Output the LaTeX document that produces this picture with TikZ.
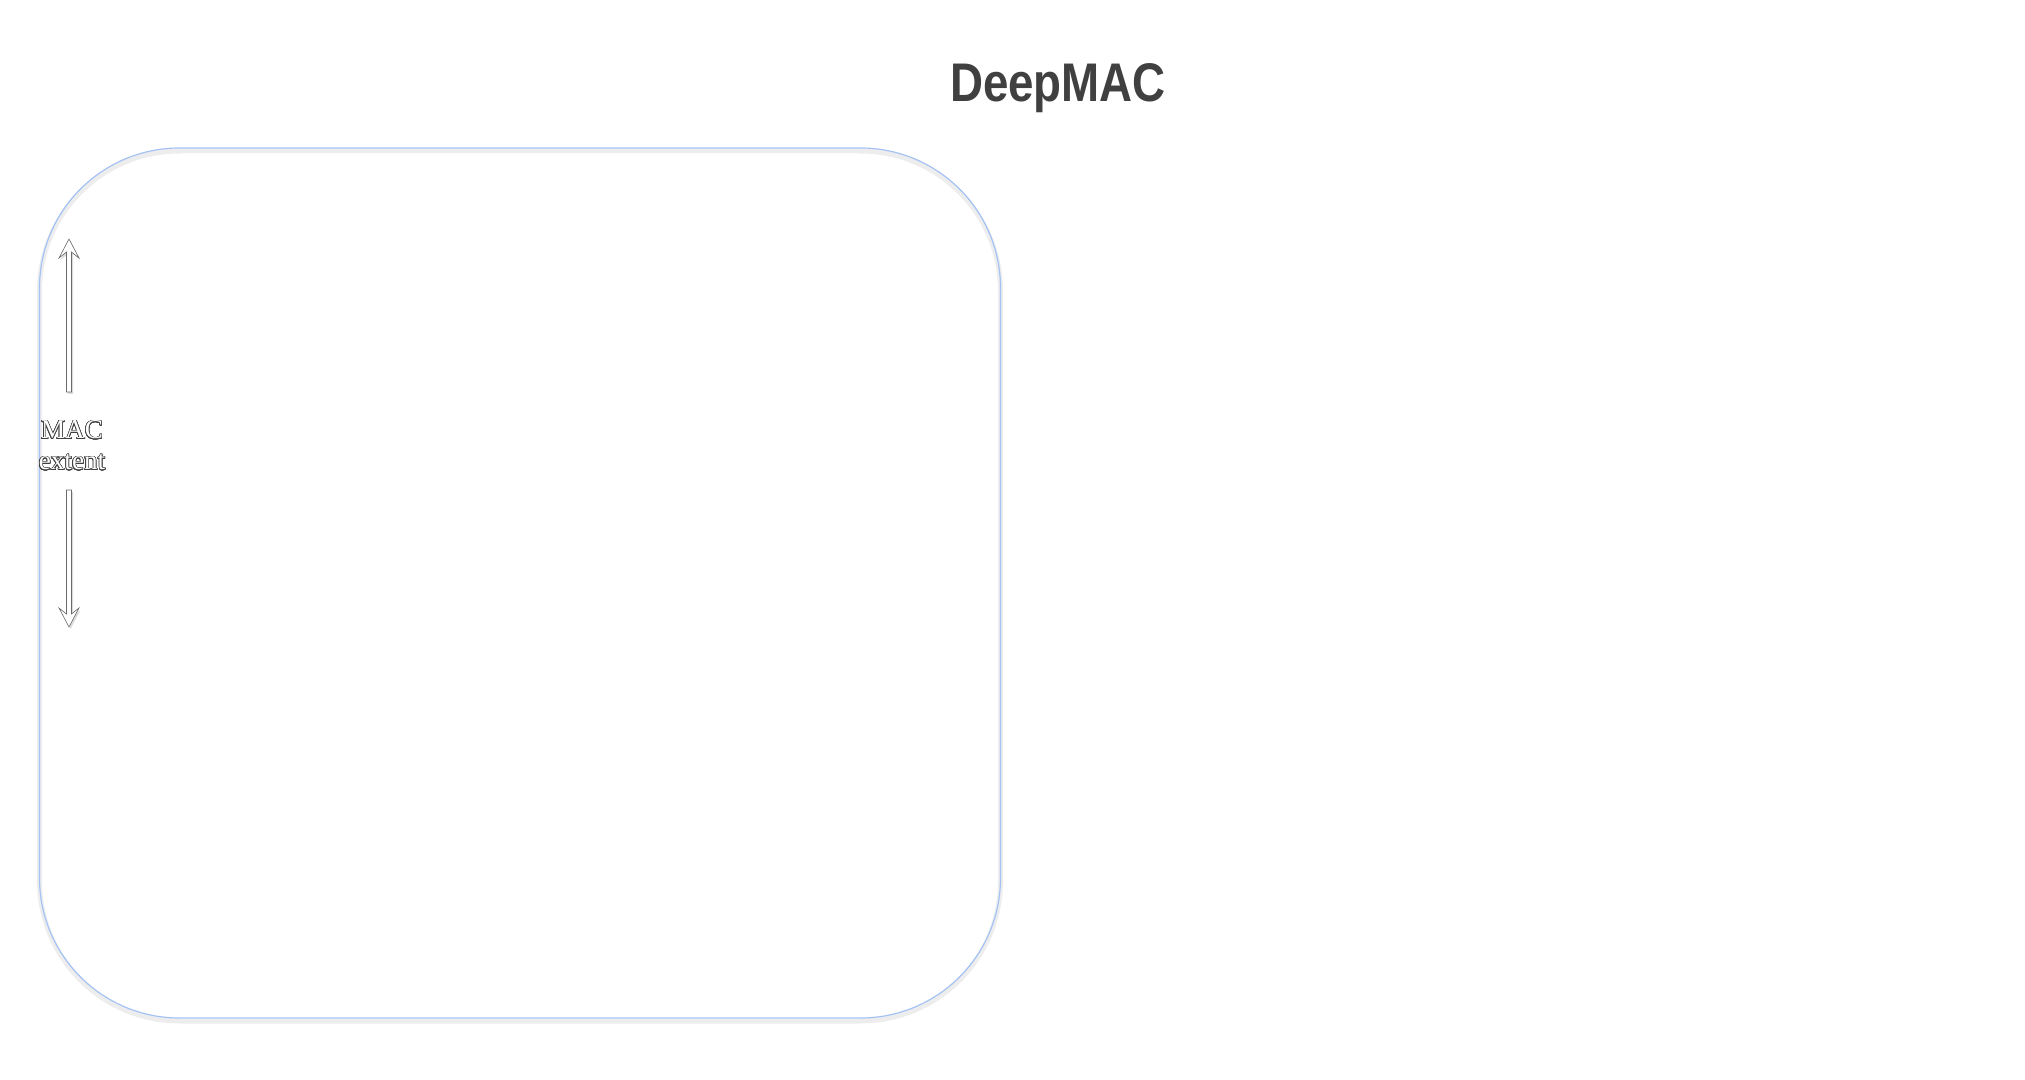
\documentclass[tikz,border=0pt]{standalone}
\usepackage{fontspec}
\setmainfont{Liberation Serif}
\newfontfamily\titlefont{Liberation Sans}
\usepackage{contour}
\contourlength{0.3pt}
\contournumber{24}
\definecolor{boxblue}{HTML}{A4C2F4}
\definecolor{titlegray}{HTML}{404040}
\definecolor{shadowgray}{HTML}{EDEDED}
\definecolor{arrowline}{HTML}{6A6A6A}
\tikzset{
  titletext/.style={font=\titlefont\bfseries\fontsize{27.2pt}{30pt}\selectfont, text=titlegray, inner sep=0pt},
  macbox/.style={rounded corners=70pt, minimum width=480.5pt, minimum height=435pt, inner sep=0pt, outer sep=0pt},
  labeltext/.style={font=\fontsize{13.6pt}{15pt}\selectfont, inner sep=0pt},
  hollowarrow/.style={fill=white, draw=arrowline, line width=0.3pt, line join=miter},
  arrowshadow/.style={fill=black!14, draw=none}
}
\newcommand{\hollowtext}[1]{\contour{black!75}{\color{white}#1}}
\begin{document}
\begin{tikzpicture}[x=0.5pt,y=-0.5pt]
\useasboundingbox (0,0) rectangle (2025,1080);
% title
\node[titletext, anchor=base] (title) at (1058,102) {\scalebox{0.84}[1]{DeepMAC}};
% box with soft shadow
\node[macbox, draw=shadowgray, line width=2.5pt] (boxshadow) at (520,586) {};
\node[macbox, draw=boxblue, line width=0.6pt] (box) at (520,583) {};
% label
\node[labeltext, anchor=base] (mac) at (72,439) {\hollowtext{MAC}};
\node[labeltext, anchor=base] (ext) at (72,470) {\hollowtext{extent}};
% arrow coordinates
\coordinate (uptip) at (69,239);
\coordinate (downtip) at (69,627);
% shadows
\fill[arrowshadow] ([shift={(1.5,2)}]uptip) -- ++(10,19) -- ++(-7.5,-6) -- ++(0,140) -- ++(-5,0) -- ++(0,-140) -- ++(-7.5,6) -- cycle;
\fill[arrowshadow] ([shift={(1.5,2)}]downtip) -- ++(10,-19) -- ++(-7.5,6) -- ++(0,-124) -- ++(-5,0) -- ++(0,124) -- ++(-7.5,-6) -- cycle;
% arrows
\draw[hollowarrow] (uptip) -- ++(10,19) -- ++(-7.5,-6) -- ++(0,140) -- ++(-5,0) -- ++(0,-140) -- ++(-7.5,6) -- cycle;
\draw[hollowarrow] (downtip) -- ++(10,-19) -- ++(-7.5,6) -- ++(0,-124) -- ++(-5,0) -- ++(0,124) -- ++(-7.5,-6) -- cycle;
\end{tikzpicture}
\end{document}
